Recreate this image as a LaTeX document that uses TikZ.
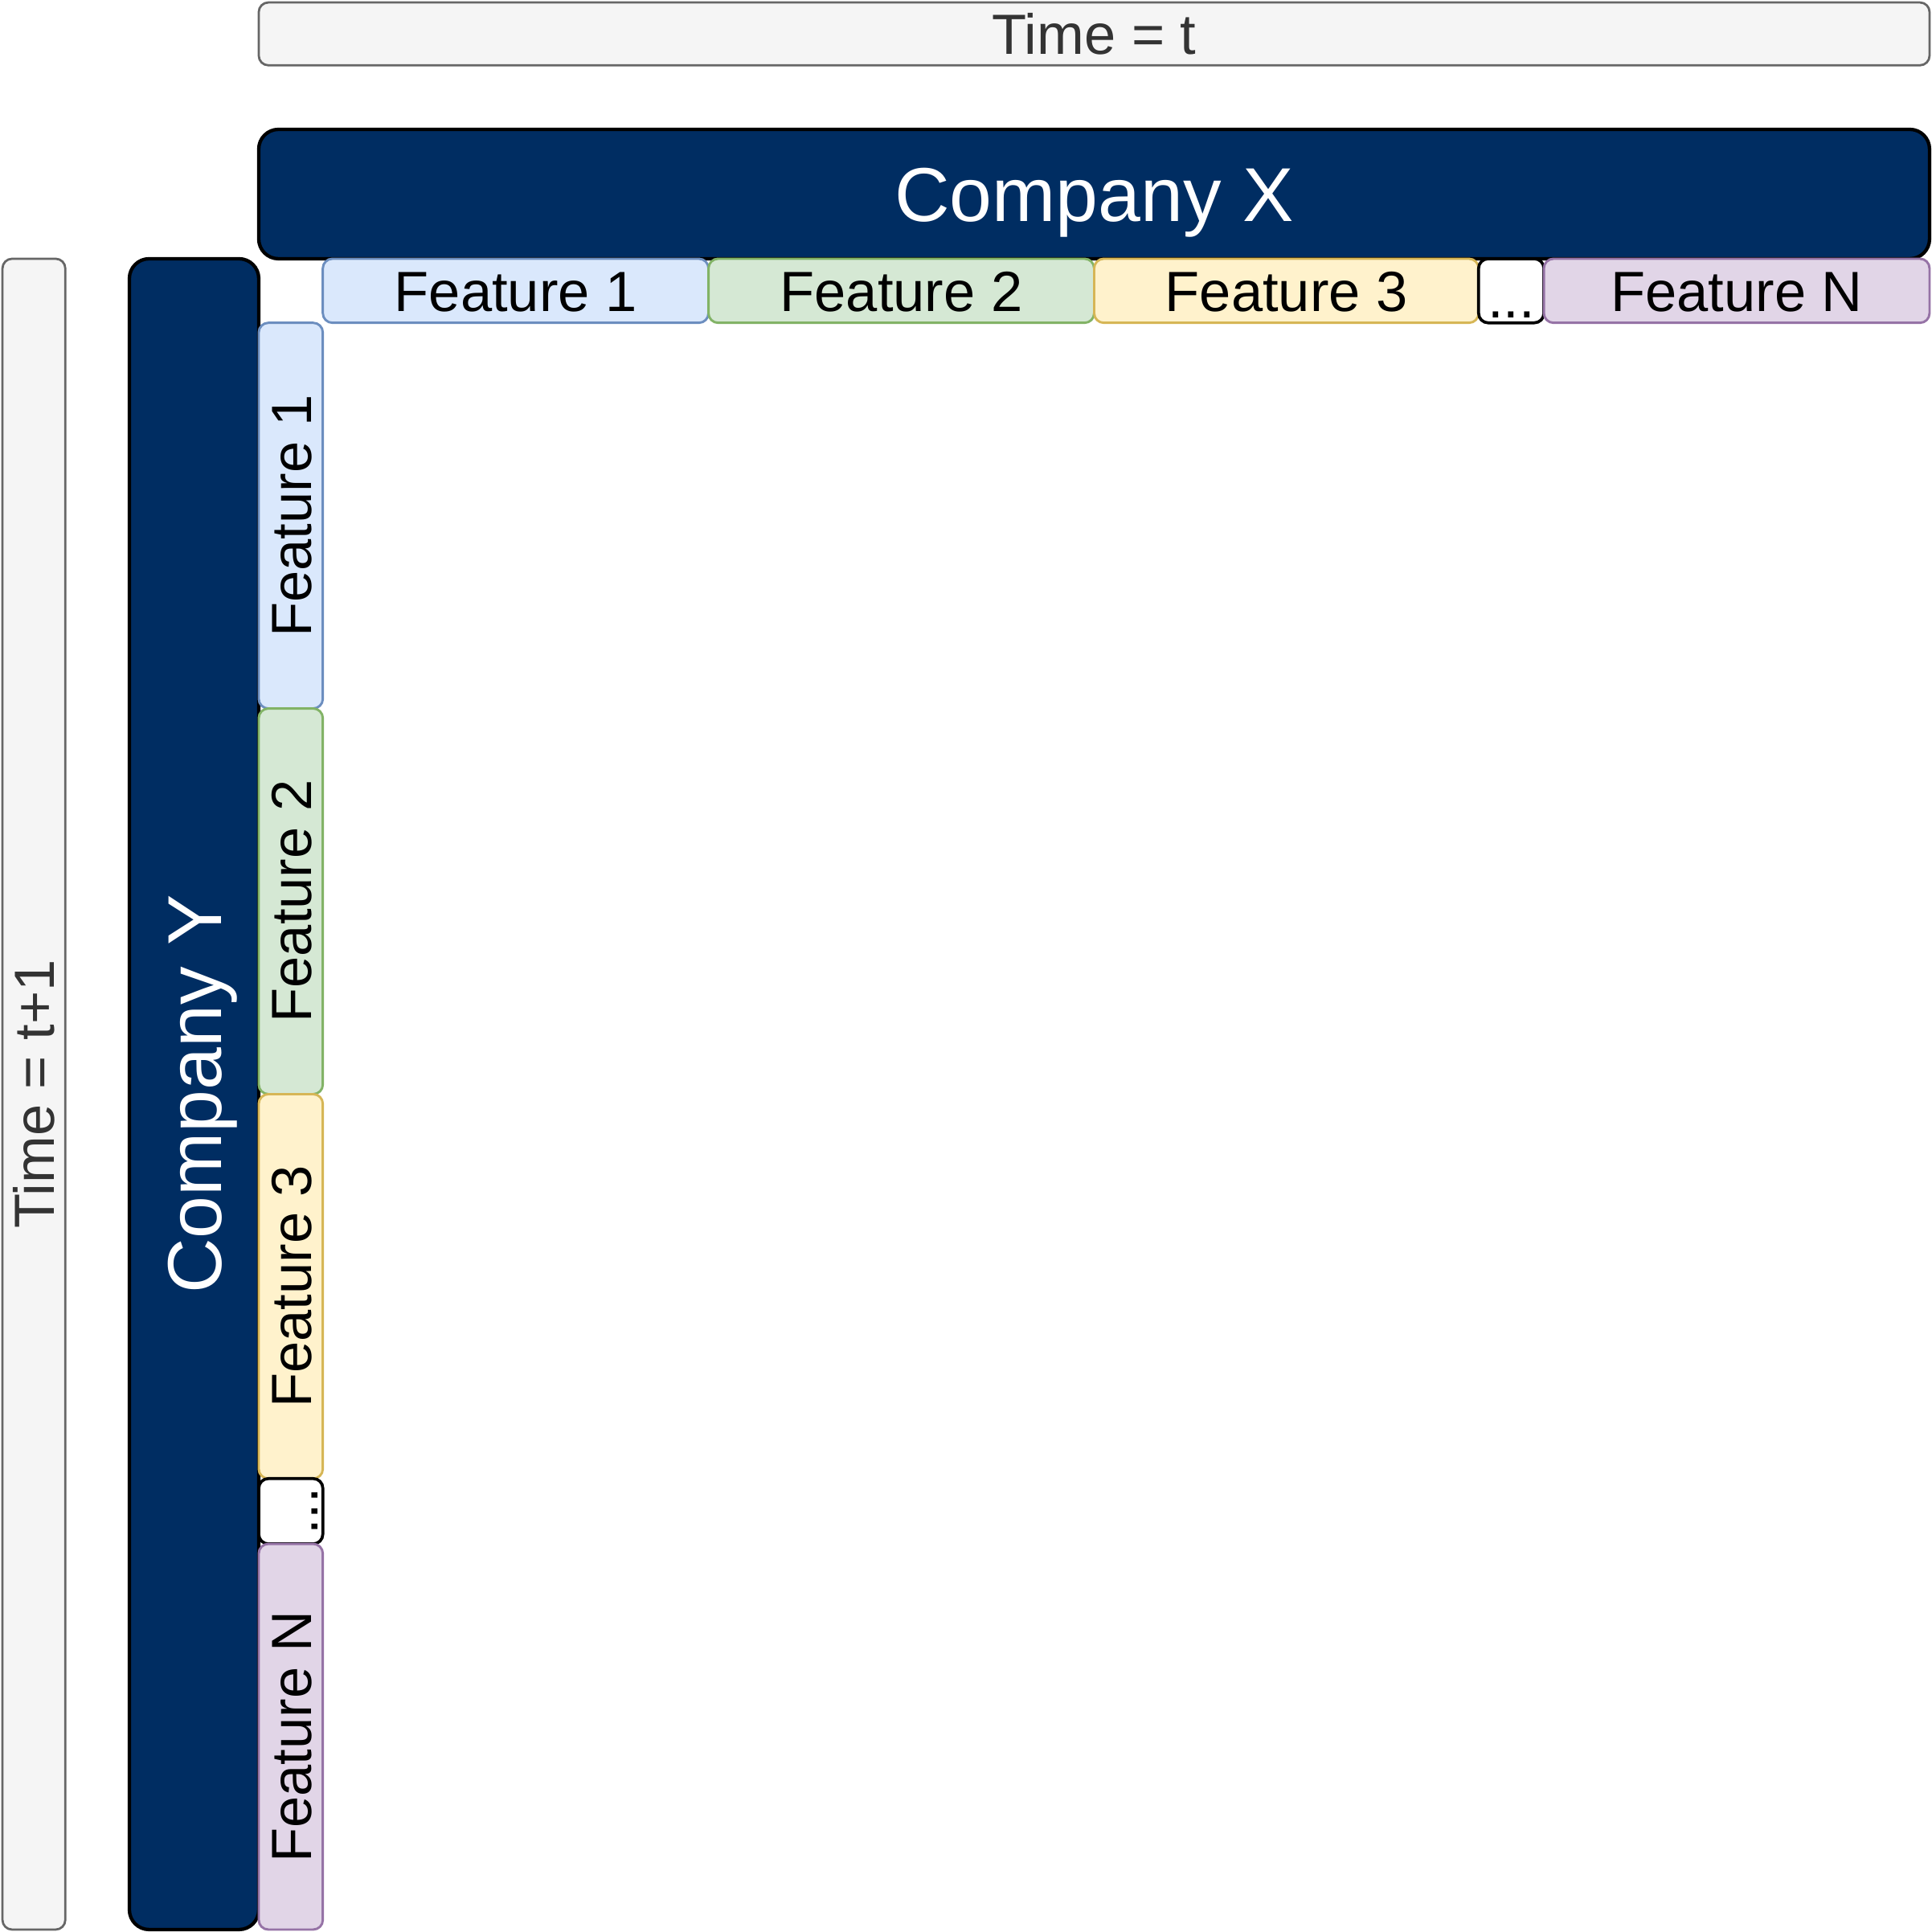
\documentclass[tikz,border=0pt]{standalone}
\usepackage{fontspec}
\setmainfont{Liberation Sans}
\definecolor{navy}{HTML}{002D62}
\definecolor{timefill}{HTML}{F5F5F5}
\definecolor{timeline}{HTML}{666666}
\definecolor{timetext}{HTML}{333333}
\definecolor{bluefill}{HTML}{DAE8FC}
\definecolor{blueline}{HTML}{6C8EBF}
\definecolor{greenfill}{HTML}{D5E8D4}
\definecolor{greenline}{HTML}{82B366}
\definecolor{yellowfill}{HTML}{FFF2CC}
\definecolor{yellowline}{HTML}{D6B656}
\definecolor{purplefill}{HTML}{E1D5E7}
\definecolor{purpleline}{HTML}{9673A6}
\tikzset{
  box/.style={draw, rounded corners=7.8pt, inner sep=0pt, outer sep=0pt,
    font=\fontsize{46}{50}\selectfont, text height=33pt, text depth=0pt},
  timebox/.style={box, fill=timefill, draw=timeline, line width=1.8pt, text=timetext,
    minimum width=1356pt, minimum height=51pt},
  company/.style={box, rounded corners=16pt, fill=navy, draw=black, line width=2.8pt, text=white,
    font=\fontsize{62}{66}\selectfont, text height=44.4pt,
    minimum width=1356pt, minimum height=105pt},
  feat/.style={box, line width=1.9pt, minimum width=313pt, minimum height=52pt},
  fblue/.style={feat, fill=bluefill, draw=blueline},
  fgreen/.style={feat, fill=greenfill, draw=greenline},
  fyellow/.style={feat, fill=yellowfill, draw=yellowline, minimum width=312pt},
  fpurple/.style={feat, fill=purplefill, draw=purpleline},
  dotsbox/.style={box, fill=white, draw=black, line width=2.4pt, text height=44pt,
    minimum width=53pt, minimum height=52pt}
}
\begin{document}
\begin{tikzpicture}[x=1pt, y=-1pt]
\useasboundingbox (0,0) rectangle (1568,1568);
% top (time t, company X)
\node[timebox] (timeT) at (888,27.5) {Time = t};
\node[company] (compX) at (888,157.5) {Company X};
\node[fblue]   (fx1) at (418.5,236) {Feature 1};
\node[fgreen]  (fx2) at (731.5,236) {Feature 2};
\node[fyellow] (fx3) at (1044,236) {Feature 3};
\node[dotsbox] (fxd) at (1226.5,236) {...};
\node[fpurple] (fxn) at (1409.5,236) {Feature N};
% left (time t+1, company Y)
\node[timebox, rotate=90] (timeT1) at (27.5,888) {Time = t+1};
\node[company, rotate=90] (compY) at (157.5,888) {Company Y};
\node[fblue, rotate=90]   (fy1) at (236,418.5) {Feature 1};
\node[fgreen, rotate=90]  (fy2) at (236,731.5) {Feature 2};
\node[fyellow, rotate=90] (fy3) at (236,1044) {Feature 3};
\node[dotsbox, rotate=90] (fyd) at (236,1226.5) {...};
\node[fpurple, rotate=90] (fyn) at (236,1409.5) {Feature N};
\end{tikzpicture}
\end{document}
